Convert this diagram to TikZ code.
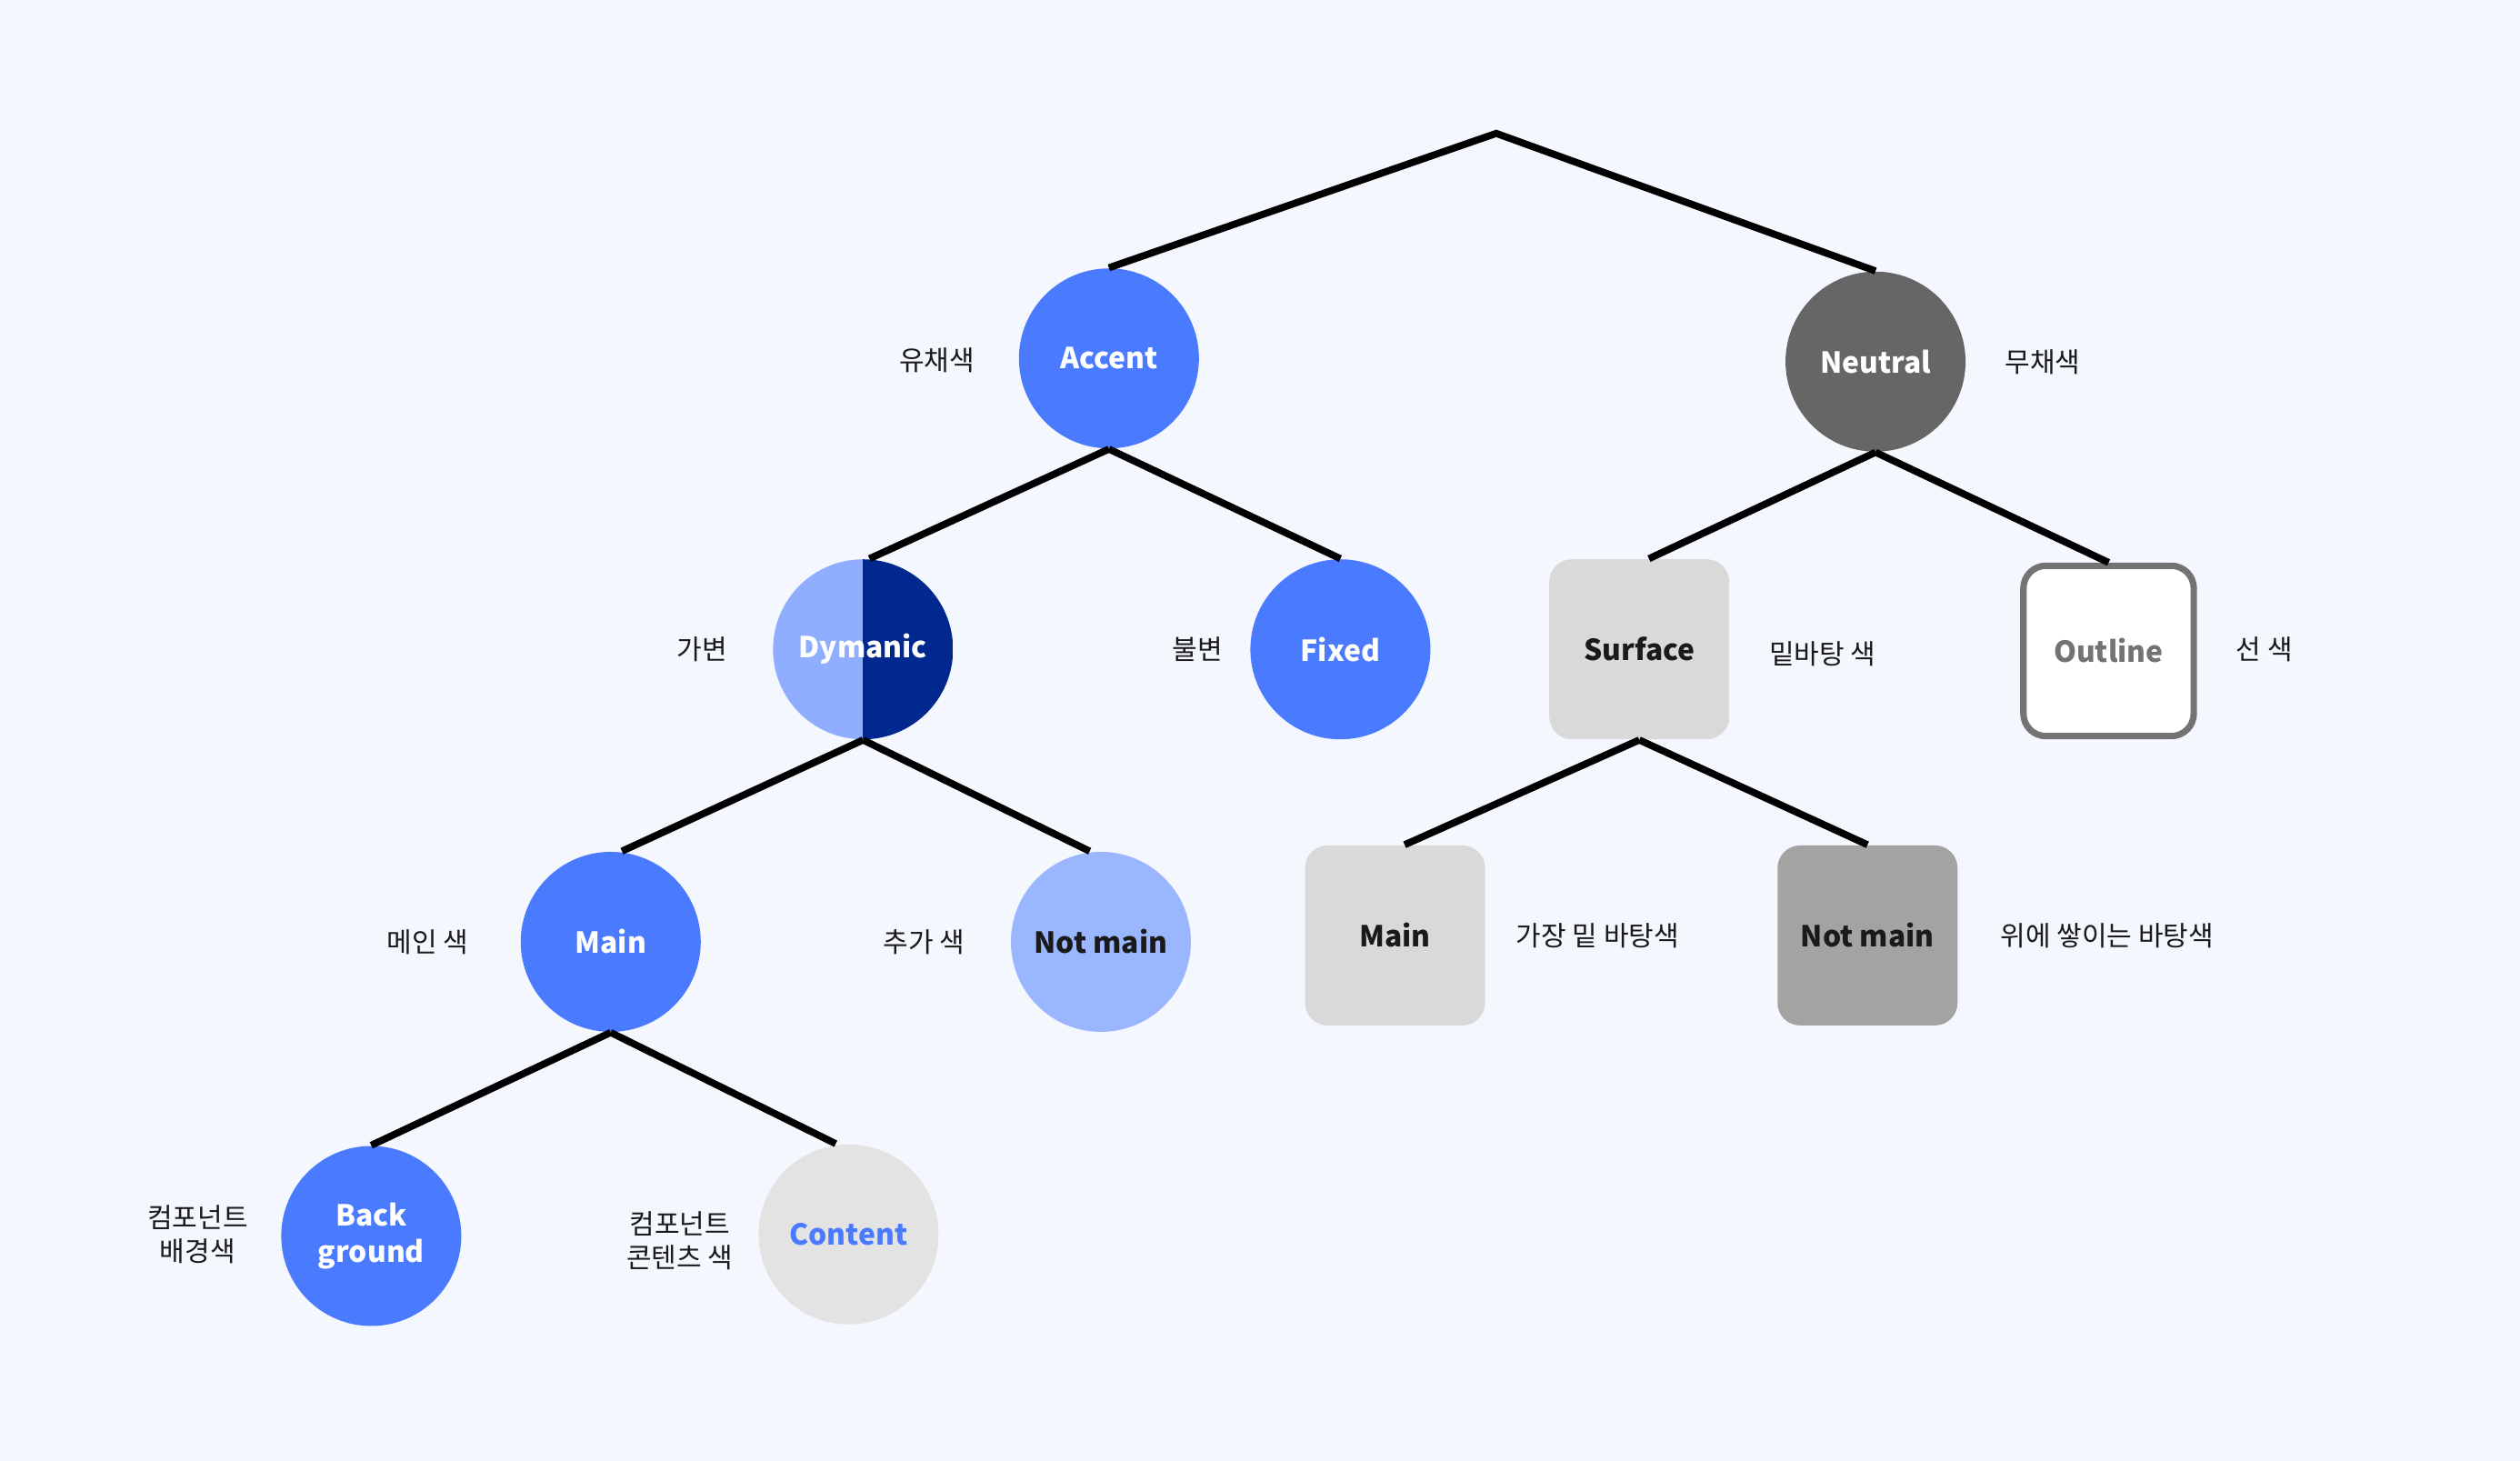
\documentclass[tikz,border=0pt]{standalone}
\usepackage{fontspec}
\setmainfont{Noto Sans CJK KR}
\definecolor{bgc}{HTML}{F4F8FE}
\definecolor{accent}{HTML}{4A7BFF}
\definecolor{navy}{HTML}{00288E}
\definecolor{dlight}{HTML}{8FAEFF}
\definecolor{lightblue}{HTML}{9AB6FF}
\definecolor{neutralc}{HTML}{666666}
\definecolor{surf}{HTML}{D9D9D9}
\definecolor{notmaing}{HTML}{A3A3A3}
\definecolor{outl}{HTML}{737373}
\definecolor{contentc}{HTML}{E3E3E3}
\definecolor{txt}{HTML}{1A1A1A}
\tikzset{
  circ/.style={circle, minimum size=56pt, inner sep=0pt, font=\fontsize{9}{11}\selectfont\bfseries, align=center},
  sq/.style={rectangle, rounded corners=7pt, minimum size=56pt, inner sep=0pt, font=\fontsize{9}{11}\selectfont\bfseries, text=txt},
  lab/.style={font=\fontsize{8.5}{10.5}\selectfont, text=txt, align=center},
  conn/.style={line width=2.2pt, black},
}
\begin{document}
\begin{tikzpicture}[x=0.5pt,y=-0.5pt]
\fill[bgc] (0,0) rectangle (1568,909);
\useasboundingbox (0,0) rectangle (1568,909);
\coordinate (root) at (931,83);
\node[circ, fill=accent, text=white] (accent) at (690,223) {Accent};
\node[circ, fill=neutralc, text=white] (neutral) at (1167,225) {Neutral};
\node[circ, text=white, path picture={
  \fill[dlight] (path picture bounding box.south west) rectangle (path picture bounding box.north);
  \fill[navy] (path picture bounding box.south) rectangle (path picture bounding box.north east);}] (dyn) at (537,404) {Dymanic};
\node[circ, fill=accent, text=white] (fixed) at (834,404) {Fixed};
\node[sq, fill=surf] (surface) at (1020,404) {Surface};
\node[sq, fill=white, draw=outl, line width=2pt, minimum size=53pt, text=outl] (outline) at (1312,405) {Outline};
\node[circ, fill=accent, text=white] (main) at (380,586) {Main};
\node[circ, fill=lightblue, text=txt] (notmain) at (685,586) {Not main};
\node[sq, fill=surf] (gmain) at (868,582) {Main};
\node[sq, fill=notmaing] (gnotmain) at (1162,582) {Not main};
\node[circ, fill=accent, text=white, font=\fontsize{9}{11.5}\selectfont\bfseries] (back) at (231,769) {Back\\ground};
\node[circ, fill=contentc, text=accent] (content) at (528,768) {Content};

\node[lab] (l1) at (583,224) {유채색};
\node[lab] (l2) at (1271,225) {무채색};
\node[lab] (l3) at (437,404) {가변};
\node[lab] (l4) at (745,404) {불변};
\node[lab] (l5) at (1134,407) {밑바탕 색};
\node[lab] (l6) at (1409,404) {선 색};
\node[lab] (l7) at (266,586) {메인 색};
\node[lab] (l8) at (575,586) {추가 색};
\node[lab] (l9) at (994,582) {가장 밑 바탕색};
\node[lab] (l10) at (1311,582) {위에 쌓이는 바탕색};
\node[lab] (l11) at (123,768) {컴포넌트\\배경색};
\node[lab] (l12) at (423,772) {컴포넌트\\콘텐츠 색};

\draw[conn, line join=miter] (accent.north) -- (root) -- (neutral.north);
\draw[conn] (accent.south) -- ([xshift=2pt]dyn.north);
\draw[conn] (accent.south) -- (fixed.north);
\draw[conn] (neutral.south) -- ([xshift=3pt]surface.north);
\draw[conn] (neutral.south) -- (outline.north);
\draw[conn] (dyn.south) -- ([xshift=3.5pt]main.north);
\draw[conn] (dyn.south) -- ([xshift=-3.5pt]notmain.north);
\draw[conn] (surface.south) -- ([xshift=3pt]gmain.north);
\draw[conn] (surface.south) -- (gnotmain.north);
\draw[conn] (main.south) -- (back.north);
\draw[conn] (main.south) -- ([xshift=-4pt]content.north);
\end{tikzpicture}
\end{document}
